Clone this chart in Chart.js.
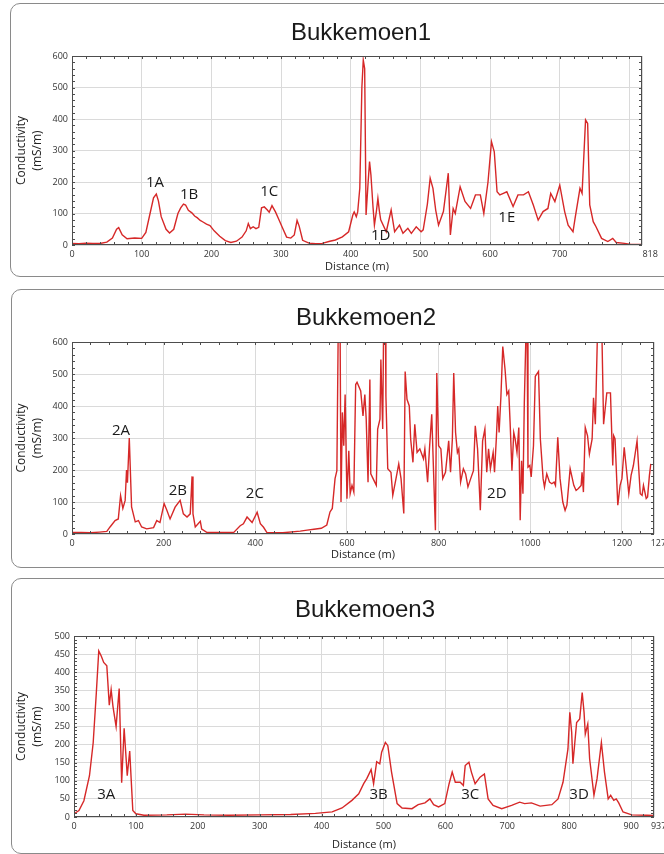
<!DOCTYPE html>
<html><head><meta charset="utf-8">
<script src="https://cdn.jsdelivr.net/npm/chart.js@4.4.1/dist/chart.umd.min.js"></script>
<style>
html,body{margin:0;padding:0;background:#fff;overflow:hidden;width:664px;height:854px;position:relative;}
.panel{position:absolute;border:1px solid #8a8a8a;border-radius:10px;box-sizing:border-box;}
canvas{position:absolute;left:0;}
</style></head><body>
<div class="panel" style="left:10px;top:3px;width:700px;height:274px"></div>
<div class="panel" style="left:11px;top:289px;width:700px;height:279px"></div>
<div class="panel" style="left:11px;top:578px;width:700px;height:276px"></div>
<canvas id="c1" width="722" height="280" style="top:0px"></canvas>
<canvas id="c2" width="732" height="290" style="top:280px"></canvas>
<canvas id="c3" width="730" height="284" style="top:570px"></canvas>
<script>
// ---------- Bukkemoen1 ----------
const title1 = 'Bukkemoen1';
const dist1 = [0,10,20,30,40,50,58,64,67,72,79,90,100,106,112,117,121,124,128,135,140,146,152,156,160,163,167,172,176,180,184,188,193,198,204,212,220,228,236,244,250,253,256,260,264,268,272,276,280,283,287,292,297,302,308,314,319,323,326,331,340,350,359,370,378,388,397,403,405,408,410,413,416,418,420,422,425,427,429,432,434,437,439,441,443,451,458,463,470,475,482,487,494,501,504,510,514,518,522,526,533,540,543,547,550,557,564,572,579,586,591,597,602,606,610,614,619,624,633,640,648,655,662,669,676,683,687,693,700,707,712,719,722,729,732,737,740,743,748,752,760,769,776,781,793,802,818];
const cond1 = [5,4,6,5,5,9,22,50,55,32,20,22,21,40,100,150,162,140,90,50,38,50,100,118,130,127,110,102,92,86,78,73,66,62,45,28,14,8,12,25,45,68,52,58,52,56,118,121,112,104,125,105,80,55,25,22,32,78,60,15,6,4,5,12,16,26,42,95,105,90,105,180,500,587,560,95,200,265,222,120,63,110,148,110,80,42,111,42,63,37,53,37,58,42,48,130,212,180,110,63,106,228,32,116,100,185,138,116,159,159,100,200,328,296,169,159,164,169,122,159,159,169,127,79,106,116,164,138,190,106,63,42,85,180,164,397,386,127,74,58,21,11,21,8,5,2,2];
const xTicks1 = [0,100,200,300,400,500,600,700,800,818];
const xTickLabels1 = ['0','100','200','300','400','500','600','700','','818'];
const yTicks1 = [0,100,200,300,400,500,600];
const marks1 = ['1A','1B','1C','1D','1E'];
const markDist1 = [119,168,283,443,624];
const markCond1 = [197,159,168,29,86];

// ---------- Bukkemoen2 ----------
const title2 = 'Bukkemoen2';
const dist2 = [0,20,40,60,76,83,94,101,106,111,116,119,121,125,128,130,138,145,152,163,178,185,192,201,207,214,225,236,243,251,258,262,264,269,280,283,294,353,367,374,382,393,404,411,418,425,460,498,513,528,544,556,563,568,574,578,581,585,587,590,593,596,600,604,607,611,615,619,622,630,635,639,642,646,650,652,657,664,667,672,674,678,680,684,685,689,696,700,707,713,718,724,727,731,736,739,744,748,753,759,767,770,776,780,785,789,793,796,800,805,809,815,822,826,830,833,837,841,844,848,854,859,864,870,876,880,885,891,896,901,905,909,913,919,922,926,929,932,936,940,945,949,953,956,960,964,967,971,975,978,981,984,987,991,993,995,999,1002,1007,1011,1018,1022,1028,1031,1036,1042,1047,1052,1055,1060,1065,1071,1076,1080,1087,1095,1100,1105,1111,1113,1116,1120,1125,1129,1135,1138,1142,1147,1156,1160,1167,1175,1180,1182,1185,1191,1196,1200,1205,1209,1215,1220,1225,1233,1240,1244,1247,1253,1256,1260,1263];
const cond2 = [5,5,4,6,8,22,42,47,120,80,105,200,160,300,170,85,38,42,22,16,20,42,36,95,74,47,84,105,63,53,63,180,63,22,40,15,5,5,26,32,53,36,68,32,21,5,4,9,12,15,18,28,69,80,173,198,650,650,100,380,276,436,110,260,126,152,131,467,474,447,369,436,359,162,483,188,173,152,328,359,545,328,650,650,431,204,193,121,173,219,173,64,508,421,400,297,224,343,255,266,235,266,162,266,374,193,12,503,276,266,173,193,291,193,297,503,317,255,266,162,204,188,147,173,198,338,266,74,291,328,193,266,204,255,193,300,400,317,431,586,514,436,447,348,198,317,297,255,333,43,229,126,410,650,650,209,214,178,276,493,508,297,173,147,188,162,157,162,152,302,173,100,74,90,204,152,136,142,152,193,131,333,307,250,297,426,343,650,650,343,441,441,214,307,297,90,152,173,271,214,126,183,214,291,126,121,152,111,116,183,219];
const xTicks2 = [0,200,400,600,800,1000,1200,1270];
const xTickLabels2 = ['0','200','400','600','800','1000','1200','1270'];
const yTicks2 = [0,100,200,300,400,500,600];
const marks2 = ['2A','2B','2C','2D'];
const markDist2 = [107,231,399,927];
const markCond2 = [322,134,125,125];

// ---------- Bukkemoen3 ----------
const title3 = 'Bukkemoen3';
const dist3 = [0,8,16,25,31,36,40,44,48,53,57,60,63,68,73,77,81,86,90,95,100,113,150,180,210,250,300,350,390,417,433,449,460,468,473,480,484,489,494,497,503,507,513,522,530,546,556,567,575,581,589,599,606,611,616,624,629,632,638,642,648,656,663,669,677,691,707,720,728,739,753,772,782,790,798,801,804,806,812,817,821,824,826,830,833,840,845,852,857,863,867,872,876,880,887,901,925,937];
const cond3 = [9,18,45,114,205,341,459,445,427,418,309,352,305,250,355,95,245,114,182,18,9,5,6,8,6,5,6,7,10,14,25,46,64,92,106,131,92,153,147,179,206,197,124,37,25,23,34,39,50,34,28,37,92,124,96,96,87,142,151,124,92,110,119,50,32,23,32,41,37,39,30,34,50,96,188,289,234,147,261,271,344,289,229,257,161,60,106,206,124,50,60,46,50,39,14,6,5,4];
const xTicks3 = [0,100,200,300,400,500,600,700,800,900,937];
const xTickLabels3 = ['0','100','200','300','400','500','600','700','800','900','937'];
const yTicks3 = [0,50,100,150,200,250,300,350,400,450,500];
const marks3 = ['3A','3B','3C','3D'];
const markDist3 = [52,492,640,816];
const markCond3 = [61,61,61,61];

function makeChart(id, cfg) {
  const framePlugin = {
    id: 'frame' + id,
    afterDatasetsDraw(chart) {
      const {ctx, chartArea: a, scales: {x, y}} = chart;
      ctx.save();
      ctx.strokeStyle = '#4d4d4d';
      ctx.lineWidth = 1;
      ctx.strokeRect(Math.round(a.left) + 0.5, Math.round(a.top) + 0.5,
                     Math.round(a.right - a.left) - 1, Math.round(a.bottom - a.top) - 1);
      ctx.beginPath();
      for (let v = 0; v <= x.max + 0.001; v += cfg.xMinor) {
        const px = Math.round(x.getPixelForValue(v)) + 0.5;
        ctx.moveTo(px, a.top); ctx.lineTo(px, a.top + 3);
        ctx.moveTo(px, a.bottom); ctx.lineTo(px, a.bottom - 3);
      }
      for (let v = 0; v <= y.max + 0.001; v += cfg.yMinor) {
        const py = Math.round(y.getPixelForValue(v)) + 0.5;
        ctx.moveTo(a.left, py); ctx.lineTo(a.left + 3, py);
        ctx.moveTo(a.right, py); ctx.lineTo(a.right - 3, py);
      }
      ctx.stroke();
      ctx.fillStyle = '#1a1a1a';
      ctx.font = '15px "Open Sans"';
      ctx.textAlign = 'center';
      ctx.textBaseline = 'middle';
      cfg.marks.forEach((t, i) => {
        ctx.fillText(t, x.getPixelForValue(cfg.markDist[i]), y.getPixelForValue(cfg.markCond[i]));
      });
      ctx.restore();
    }
  };
  const lastIdx = cfg.xTicks.length - 1;
  return new Chart(document.getElementById(id), {
    type: 'line',
    data: {
      datasets: [{
        data: cfg.dist.map((d, i) => ({x: d, y: cfg.cond[i]})),
        borderColor: '#d62828',
        borderWidth: 1.4,
        pointRadius: 0,
        tension: 0,
        fill: false
      }]
    },
    options: {
      responsive: false,
      animation: false,
      events: [],
      layout: {padding: 0, autoPadding: false},
      plugins: {
        legend: {display: false},
        tooltip: {enabled: false},
        title: {
          display: true, text: cfg.title, color: '#1a1a1a',
          font: {family: '"Liberation Sans", Arial, sans-serif', size: 24, weight: 'normal', lineHeight: 1.2},
          padding: {top: cfg.titleTop, bottom: cfg.titleBottom}
        }
      },
      scales: {
        x: {
          type: 'linear', position: 'bottom', min: 0, max: cfg.xMax,
          afterBuildTicks: s => { s.ticks = cfg.xTicks.map(v => ({value: v})); },
          afterFit: s => { s.height = cfg.xAxisH; },
          grid: {color: '#dadada', lineWidth: 1, drawTicks: false},
          border: {display: false},
          ticks: {
            autoSkip: false, maxRotation: 0, padding: 4, color: '#333',
            font: {family: '"Open Sans", sans-serif', size: 9},
            callback: (v, i) => (i === lastIdx ? ' '.repeat(cfg.lastPad) : '') + cfg.xTickLabels[i]
          },
          title: {
            display: true, text: 'Distance (m)', color: '#222',
            font: {family: '"Open Sans", sans-serif', size: 11, lineHeight: 1.2},
            padding: {top: 0, bottom: cfg.xTitlePad}
          }
        },
        y: {
          type: 'linear', position: 'left', min: 0, max: cfg.yMax,
          afterBuildTicks: s => { s.ticks = cfg.yTicks.map(v => ({value: v})); },
          afterFit: s => { s.width = cfg.plotLeft; },
          grid: {color: '#dadada', lineWidth: 1, drawTicks: false},
          border: {display: false},
          ticks: {
            padding: 4, color: '#333',
            font: {family: '"Open Sans", sans-serif', size: 9}
          },
          title: {
            display: true, text: ['Conductivity', '(mS/m)'], color: '#222',
            font: {family: '"Open Sans", sans-serif', size: 12, lineHeight: 1.3},
            padding: {top: 14, bottom: 0}
          }
        },
        yR: {
          type: 'linear', position: 'right', display: true,
          grid: {display: false}, border: {display: false}, ticks: {display: false},
          afterFit: s => { s.width = cfg.rightW; }
        }
      }
    },
    plugins: [framePlugin]
  });
}

makeChart('c1', {title: title1, dist: dist1, cond: cond1, xMax: 818, yMax: 600,
  xTicks: xTicks1, xTickLabels: xTickLabels1, yTicks: yTicks1,
  marks: marks1, markDist: markDist1, markCond: markCond1,
  xMinor: 20, yMinor: 20, plotLeft: 72, rightW: 80, xAxisH: 35, lastPad: 7,
  titleTop: 18.6, titleBottom: 8.6, xTitlePad: 6.4});
makeChart('c2', {title: title2, dist: dist2, cond: cond2, xMax: 1270, yMax: 600,
  xTicks: xTicks2, xTickLabels: xTickLabels2, yTicks: yTicks2,
  marks: marks2, markDist: markDist2, markCond: markCond2,
  xMinor: 40, yMinor: 20, plotLeft: 72, rightW: 78, xAxisH: 36, lastPad: 6,
  titleTop: 23.6, titleBottom: 9.6, xTitlePad: 8.4});
makeChart('c3', {title: title3, dist: dist3, cond: cond3, xMax: 937, yMax: 500,
  xTicks: xTicks3, xTickLabels: xTickLabels3, yTicks: yTicks3,
  marks: marks3, markDist: markDist3, markCond: markCond3,
  xMinor: 20, yMinor: 10, plotLeft: 74, rightW: 76, xAxisH: 37, lastPad: 4,
  titleTop: 25.6, titleBottom: 11.6, xTitlePad: 2.4});
</script>
</body></html>
